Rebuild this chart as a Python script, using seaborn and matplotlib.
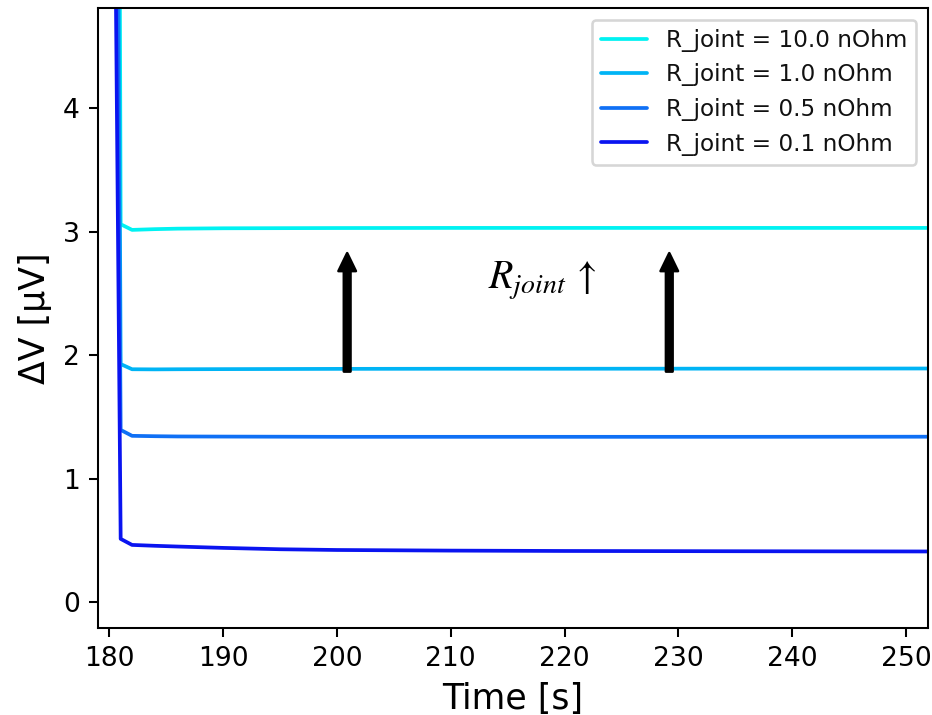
import matplotlib
matplotlib.use("Agg")
import matplotlib.pyplot as plt
import numpy as np
import pandas as pd
import seaborn as sns

# Time samples [s] and voltage drop [µV] for each joint resistance
time_s = [180, 181, 182, 184, 186, 190, 195, 200, 210, 220, 235, 252]
dv_10_0 = [30.0, 3.06, 3.014, 3.02, 3.024, 3.027, 3.028, 3.029, 3.03, 3.03, 3.03, 3.03]
dv_1_0 = [20.0, 1.928, 1.886, 1.885, 1.886, 1.887, 1.888, 1.889, 1.89, 1.89, 1.891, 1.892]
dv_0_5 = [15.0, 1.395, 1.347, 1.344, 1.342, 1.341, 1.340, 1.339, 1.339, 1.339, 1.339, 1.340]
dv_0_1 = [11.0, 0.513, 0.464, 0.457, 0.451, 0.440, 0.429, 0.423, 0.418, 0.415, 0.413, 0.411]

labels = ["R_joint = 10.0 nOhm", "R_joint = 1.0 nOhm",
          "R_joint = 0.5 nOhm", "R_joint = 0.1 nOhm"]
series = [dv_10_0, dv_1_0, dv_0_5, dv_0_1]
colors = ["#00F2F2", "#00B4F5", "#1070F5", "#0A14F0"]

df = pd.concat(
    [pd.DataFrame({"Time [s]": time_s, "dV": vals, "case": lab})
     for lab, vals in zip(labels, series)],
    ignore_index=True,
)

sns.set_style("ticks")
plt.rcParams["mathtext.fontset"] = "stix"
plt.rcParams["text.color"] = "black"
plt.rcParams["axes.labelcolor"] = "black"

DPI = 185
fig = plt.figure(figsize=(932 / DPI, 715 / DPI), dpi=DPI)
ax = fig.add_axes([0.1048, 0.1221, 0.8909, 0.8667])

sns.lineplot(data=df, x="Time [s]", y="dV", hue="case", hue_order=labels,
             palette=dict(zip(labels, colors)), linewidth=1.45, sort=False,
             estimator=None, ax=ax)

ax.set_xlim(178.98, 251.93)
ax.set_ylim(-0.206, 4.81)
ax.set_xticks(np.arange(180, 251, 10))
ax.set_yticks([0, 1, 2, 3, 4])
ax.tick_params(labelsize=10.3, length=3.5, width=0.8, colors="black",
               direction="out")
for sp in ax.spines.values():
    sp.set_visible(True)
    sp.set_linewidth(0.8)
    sp.set_color("black")

ax.set_xlabel("Time [s]", fontsize=13.5, color="black")
ax.set_ylabel("ΔV [µV]", fontsize=13.5, color="black")

handles, labs = ax.get_legend_handles_labels()
leg = ax.legend(handles, labs, loc="upper right", fontsize=9, frameon=True)
for t in leg.get_texts():
    t.set_color("#111111")

# Arrows marking the direction of increasing joint resistance
arrow_x = [200.9, 229.2]
arrow_base, arrow_tip = 1.867, 2.826
for xa in arrow_x:
    ax.annotate("", xy=(xa, arrow_tip), xytext=(xa, arrow_base),
                arrowprops=dict(facecolor="black", edgecolor="black",
                                width=2.6, headwidth=6.8, headlength=7.0,
                                shrink=0.0))
ax.text(213.3, 2.537, r"$R_{joint}\,\uparrow$", fontsize=15.5,
        ha="left", va="baseline")

fig.savefig("out.png", dpi=DPI)
